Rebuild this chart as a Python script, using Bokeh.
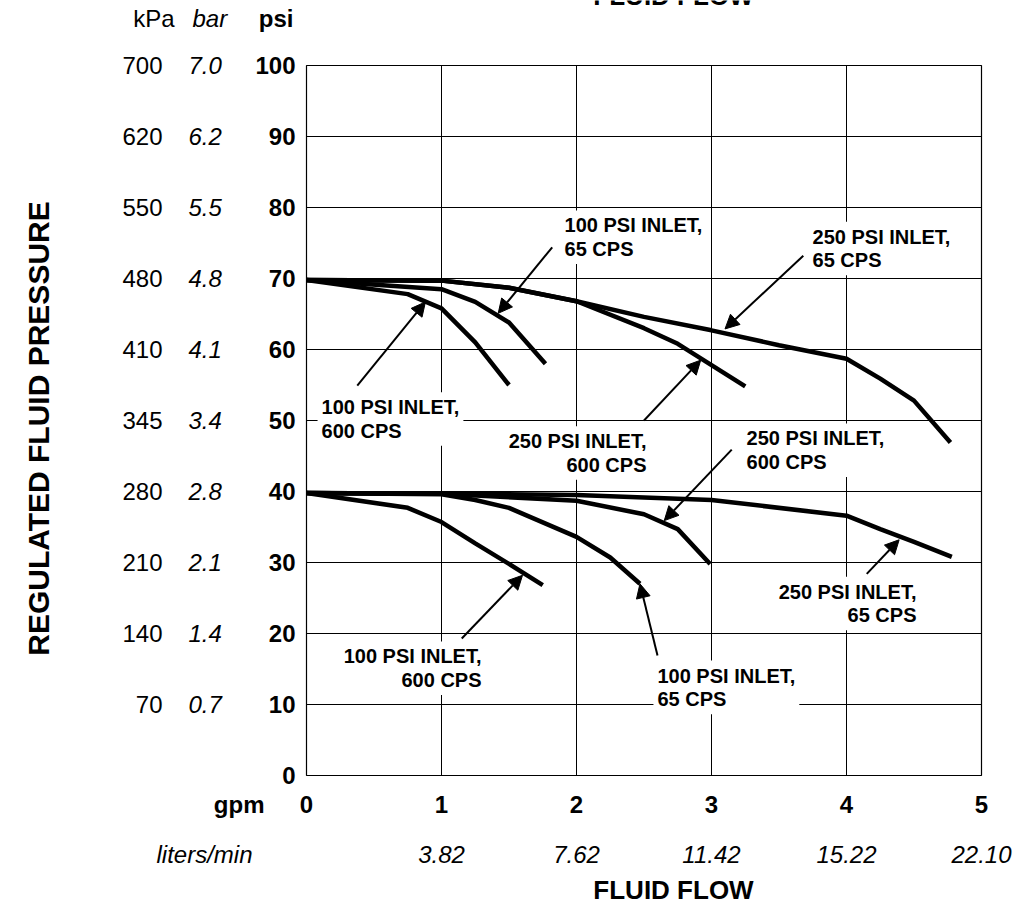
import math
from bokeh.plotting import figure
from bokeh.models import Label, Arrow, NormalHead, Range1d
from bokeh.core.properties import value
from bokeh.embed import file_html
from bokeh.resources import INLINE

# ---------------- data ----------------
gpm_ticks = [0, 1, 2, 3, 4, 5]
lpm_labels = ["3.82", "7.62", "11.42", "15.22", "22.10"]
lpm_pos = [1, 2, 3, 4, 5]
psi_ticks = [0, 10, 20, 30, 40, 50, 60, 70, 80, 90, 100]
psi_rows = [100, 90, 80, 70, 60, 50, 40, 30, 20, 10]
kpa_labels = ["700", "620", "550", "480", "410", "345", "280", "210", "140", "70"]
bar_labels = ["7.0", "6.2", "5.5", "4.8", "4.1", "3.4", "2.8", "2.1", "1.4", "0.7"]
grid_x = [1, 2, 3, 4]
grid_y = [10, 20, 30, 40, 50, 60, 70, 80, 90]

# upper family (70 psi set point)
flow_100_600_hi = [0, 0.75, 1.0, 1.25, 1.5]
pres_100_600_hi = [69.8, 67.8, 65.8, 61.0, 55.0]
flow_100_65_hi = [0, 1.0, 1.25, 1.5, 1.77]
pres_100_65_hi = [69.8, 68.5, 66.7, 63.8, 58.0]
flow_250_600_hi = [0, 1.0, 1.5, 2.0, 2.5, 2.75, 3.0, 3.25]
pres_250_600_hi = [69.8, 69.7, 68.7, 66.8, 63.0, 60.8, 57.8, 54.8]
flow_250_65_hi = [0, 1.0, 1.5, 2.0, 2.5, 3.0, 3.5, 4.0, 4.25, 4.5, 4.77]
pres_250_65_hi = [69.8, 69.7, 68.7, 66.8, 64.6, 62.7, 60.6, 58.7, 55.9, 52.8, 46.9]

# lower family (40 psi set point)
flow_100_600_lo = [0, 0.75, 1.0, 1.25, 1.5, 1.75]
pres_100_600_lo = [39.8, 37.7, 35.7, 32.7, 29.8, 26.8]
flow_100_65_lo = [0, 1.0, 1.25, 1.5, 2.0, 2.25, 2.47]
pres_100_65_lo = [39.8, 39.6, 38.8, 37.7, 33.6, 30.7, 27.0]
flow_250_600_lo = [0, 1.0, 2.0, 2.5, 2.75, 2.99]
pres_250_600_lo = [39.8, 39.7, 38.7, 36.8, 34.7, 29.8]
flow_250_65_lo = [0, 1.0, 2.0, 3.0, 4.0, 4.25, 4.5, 4.78]
pres_250_65_lo = [39.8, 39.7, 39.5, 38.8, 36.6, 34.7, 32.9, 30.8]

# callouts
note_text = [
    "100 PSI INLET,\n65 CPS",
    "250 PSI INLET,\n65 CPS",
    "100 PSI INLET,\n600 CPS",
    "250 PSI INLET,\n600 CPS",
    "250 PSI INLET,\n600 CPS",
    "250 PSI INLET,\n65 CPS",
    "100 PSI INLET,\n600 CPS",
    "100 PSI INLET,\n65 CPS",
]
note_x = [1.919, 3.756, 0.119, 2.511, 3.267, 4.511, 1.289, 2.607]
note_y = [79.3, 77.7, 53.7, 48.9, 49.3, 27.7, 18.6, 15.9]
note_align = ["left", "left", "left", "right", "left", "right", "right", "left"]
arrow_x0 = [1.82, 3.68, 0.376, 2.50, 3.15, 4.15, 1.15, 2.60]
arrow_y0 = [74.4, 73.2, 54.9, 50.0, 45.9, 28.4, 19.3, 16.9]
arrow_x1 = [1.42, 3.10, 0.881, 2.92, 2.65, 4.39, 1.60, 2.47]
arrow_y1 = [65.1, 62.9, 66.7, 58.5, 35.9, 33.2, 28.2, 27.0]

FONT = "Liberation Sans"
W, H = 1013, 903
# pixel layout of the plotting box inside the canvas
X0_PX, PX_PER_GPM = 306.0, 135.0
Y0_PX, PX_PER_PSI = 775.0, 7.1


def px2x(px):
    return (px - X0_PX) / PX_PER_GPM


def px2y(py):
    return (Y0_PX - py) / PX_PER_PSI


p = figure(width=W, height=H,
           x_range=Range1d(px2x(0), px2x(W)), y_range=Range1d(px2y(H), px2y(0)),
           output_backend="svg", toolbar_location=None,
           x_axis_location=None, y_axis_location=None, min_border=0)
p.background_fill_color = "white"
p.border_fill_color = "white"
p.outline_line_color = None
p.grid.visible = False

# grid lines and plotting box
p.segment(x0=grid_x, y0=[psi_ticks[0]] * len(grid_x), x1=grid_x, y1=[psi_ticks[-1]] * len(grid_x),
          line_color="black", line_width=1)
p.segment(x0=[gpm_ticks[0]] * len(grid_y), y0=grid_y, x1=[gpm_ticks[-1]] * len(grid_y), y1=grid_y,
          line_color="black", line_width=1)
p.quad(left=[gpm_ticks[0]], right=[gpm_ticks[-1]], bottom=[psi_ticks[0]], top=[psi_ticks[-1]],
       fill_color=None, line_color="black", line_width=1.2)

curves = [
    (flow_100_600_hi, pres_100_600_hi), (flow_100_65_hi, pres_100_65_hi),
    (flow_250_600_hi, pres_250_600_hi), (flow_250_65_hi, pres_250_65_hi),
    (flow_100_600_lo, pres_100_600_lo), (flow_100_65_lo, pres_100_65_lo),
    (flow_250_600_lo, pres_250_600_lo), (flow_250_65_lo, pres_250_65_lo),
]
for fx, fy in curves:
    p.line(fx, fy, line_color="black", line_width=4.5)

# callout labels
PAD = 4
for t, x, y, a in zip(note_text, note_x, note_y, note_align):
    p.add_layout(Label(x=x, y=y, text=t, text_align=a, text_baseline="top",
                       x_offset=(-PAD - 1 if a == "left" else PAD + 1), y_offset=2,
                       text_font=FONT, text_font_size="20px", text_font_style="bold",
                       text_color="black", text_line_height=1.07,
                       background_fill_color="white", background_fill_alpha=1.0,
                       padding=PAD))

for x0, y0, x1, y1 in zip(arrow_x0, arrow_y0, arrow_x1, arrow_y1):
    p.add_layout(Arrow(x_start=x0, y_start=y0, x_end=x1, y_end=y1,
                       line_color="black", line_width=2,
                       end=NormalHead(size=14, fill_color="black", line_color="black", line_width=1)))


def add_text(xs, ys, texts, align="left", base="middle", size="24px", style="normal", angle=0.0):
    p.text(x=xs, y=ys, text=texts, text_align=align, text_baseline=base,
           text_font=value(FONT), text_font_size=value(size), text_font_style=style,
           text_color="black", angle=angle)


n = len(psi_ticks)
# psi tick labels (bold), bar (italic), kPa (regular)
add_text([px2x(295)] * n, psi_ticks, [str(v) for v in psi_ticks], align="right", style="bold")
add_text([px2x(188)] * len(psi_rows), psi_rows, bar_labels, align="left", style="italic")
add_text([px2x(162)] * len(psi_rows), psi_rows, kpa_labels, align="right")

# column headers
yh = px2y(18)
add_text([px2x(174)], [yh], ["kPa"], align="right")
add_text([px2x(192)], [yh], ["bar"], align="left", style="italic")
add_text([px2x(293)], [yh], ["psi"], align="right", style="bold")

# x tick labels
yg = px2y(804)
add_text(gpm_ticks, [yg] * len(gpm_ticks), [str(v) for v in gpm_ticks], align="center", style="bold")
add_text([px2x(264)], [yg], ["gpm"], align="right", style="bold")
yl = px2y(854)
add_text(lpm_pos, [yl] * len(lpm_pos), lpm_labels, align="center", style="italic")
add_text([px2x(252)], [yl], ["liters/min"], align="right", style="italic")

# axis titles
add_text([px2x(673)], [px2y(889)], ["FLUID FLOW"], align="center", style="bold", size="26px")
add_text([px2x(673)], [px2y(-5)], ["FLUID FLOW"], align="center", style="bold", size="26px")
add_text([px2x(38)], [px2y(428)], ["REGULATED FLUID PRESSURE"], align="center",
         style="bold", size="30px", angle=math.pi / 2)

open("out.html", "w").write(file_html(p, INLINE))
